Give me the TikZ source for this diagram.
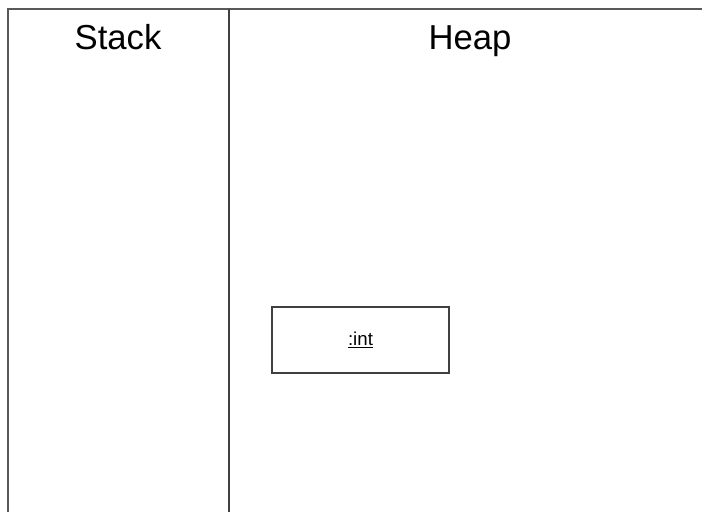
\documentclass[tikz,border=0pt]{standalone}
\usepackage{fontspec}
\setmainfont{Liberation Sans}
\usetikzlibrary{positioning}
\begin{document}
\begin{tikzpicture}[x=0.75pt, y=-0.75pt, frame/.style={draw=black!65, line width=1.5pt}, title/.style={font=\fontsize{26}{30}\selectfont, inner sep=0pt, anchor=base}, objbox/.style={draw=black!75, line width=0.9pt, minimum width=132.75pt, minimum height=49.5pt, font=\fontsize{14}{16}\selectfont, inner sep=0pt}]
  \useasboundingbox (0,0) rectangle (702,512);

            % frame corners
            \coordinate (tl) at (7.5,8.5);
            \coordinate (tr) at (702,8.5);
            \coordinate (bl) at (7.5,512);
            \coordinate (dt) at (228.5,8.5);
            \coordinate (db) at (228.5,512);

            \draw[frame] (bl) -- (tl) -- (tr);
            \draw[frame, draw=black!75] (dt) -- (db);

            \node[title] (stack) at (118,49.5) {Stack};
            \node[title] (heap) at (470,49.5) {Heap};

            \node[objbox] (int) at (360.5,340) {\underline{:int}};

        \end{tikzpicture}
\end{document}
